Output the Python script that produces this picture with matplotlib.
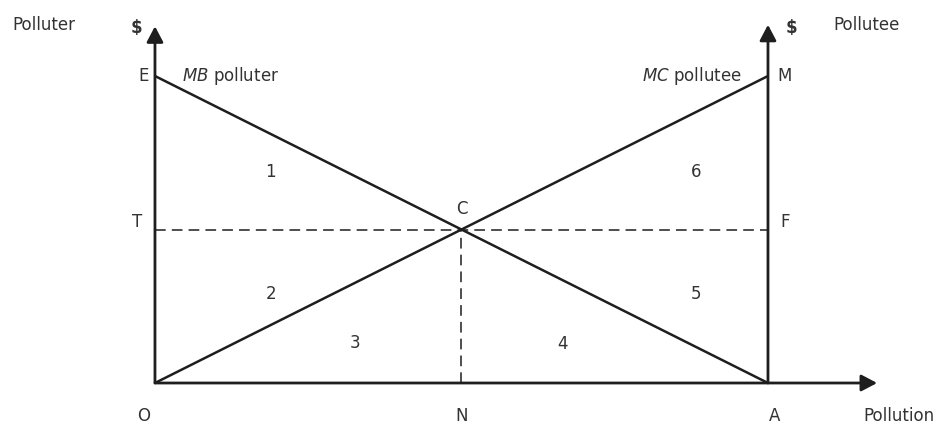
import matplotlib
matplotlib.use("Agg")
import matplotlib.pyplot as plt

plt.rcParams['font.family'] = ['DejaVu Sans']
plt.rcParams['mathtext.fontset'] = 'dejavusans'

# Data (pollution quantity from O to A, $ values)
pollution = [0, 10]
mb_polluter = [10, 0]      # E -> A
mc_pollutee = [0, 10]      # O -> M
eq_x, eq_y = 5, 5          # point C
area_labels = ['1', '2', '3', '4', '5', '6']
area_x = [1.89, 1.89, 3.26, 6.64, 8.83, 8.83]
area_y = [6.87, 2.90, 1.30, 1.27, 2.90, 6.87]

col = '#1e1e1e'
fig = plt.figure(figsize=(9.43, 4.25), dpi=100)
ax = fig.add_axes([0, 0, 1, 1])
ax.set_xlim(-2.528, 12.855)
ax.set_ylim(-1.368, 12.476)
ax.axis('off')

# axes with arrows
ap = dict(arrowstyle='-|>,head_length=0.95,head_width=0.5', lw=2, color=col,
          shrinkA=0, shrinkB=0)
ax.annotate('', xy=(0, 11.62), xytext=(0, 0), arrowprops=ap)
ax.annotate('', xy=(10, 11.67), xytext=(10, 0), arrowprops=ap)
ax.annotate('', xy=(11.78, 0), xytext=(0, 0), arrowprops=ap)

# curves
ax.plot(pollution, mb_polluter, color=col, lw=1.8, solid_capstyle='butt')
ax.plot(pollution, mc_pollutee, color=col, lw=1.8, solid_capstyle='butt')

# dashed lines
ax.plot([0, 10], [eq_y, eq_y], color=col, lw=1.1, ls=(0, (7, 4)))
ax.plot([eq_x, eq_x], [0, eq_y], color=col, lw=1.1, ls=(0, (7, 4)))

fs = 12
tk = dict(color='#333333', fontsize=fs, va='center')
ax.text(-0.1, 10, 'E', ha='right', **tk)
ax.text(10.15, 10, 'M', ha='left', **tk)
ax.text(-0.21, 5.24, 'T', ha='right', **tk)
ax.text(10.2, 5.24, 'F', ha='left', **tk)
ax.text(eq_x, 5.67, 'C', ha='center', **tk)
ax.text(-0.18, -1.07, 'O', ha='center', **tk)
ax.text(eq_x, -1.07, 'N', ha='center', **tk)
ax.text(10.11, -1.07, 'A', ha='center', **tk)
ax.text(11.55, -1.07, 'Pollution', ha='left', **tk)
ax.text(-2.33, 11.66, 'Polluter', ha='left', **tk)
ax.text(11.06, 11.66, 'Pollutee', ha='left', **tk)
ax.text(-0.31, 11.58, r'\$', ha='center', color='#333333', fontsize=12,
        va='center', fontweight='bold')
ax.text(10.38, 11.58, r'\$', ha='center', color='#333333', fontsize=12,
        va='center', fontweight='bold')
ax.text(0.44, 10, r'$\it{MB}$ polluter', ha='left', **tk)
ax.text(9.58, 10, r'$\it{MC}$ pollutee', ha='right', **tk)

for lab, x, y in zip(area_labels, area_x, area_y):
    ax.text(x, y, lab, ha='center', **tk)

fig.savefig('out.png', dpi=100)
